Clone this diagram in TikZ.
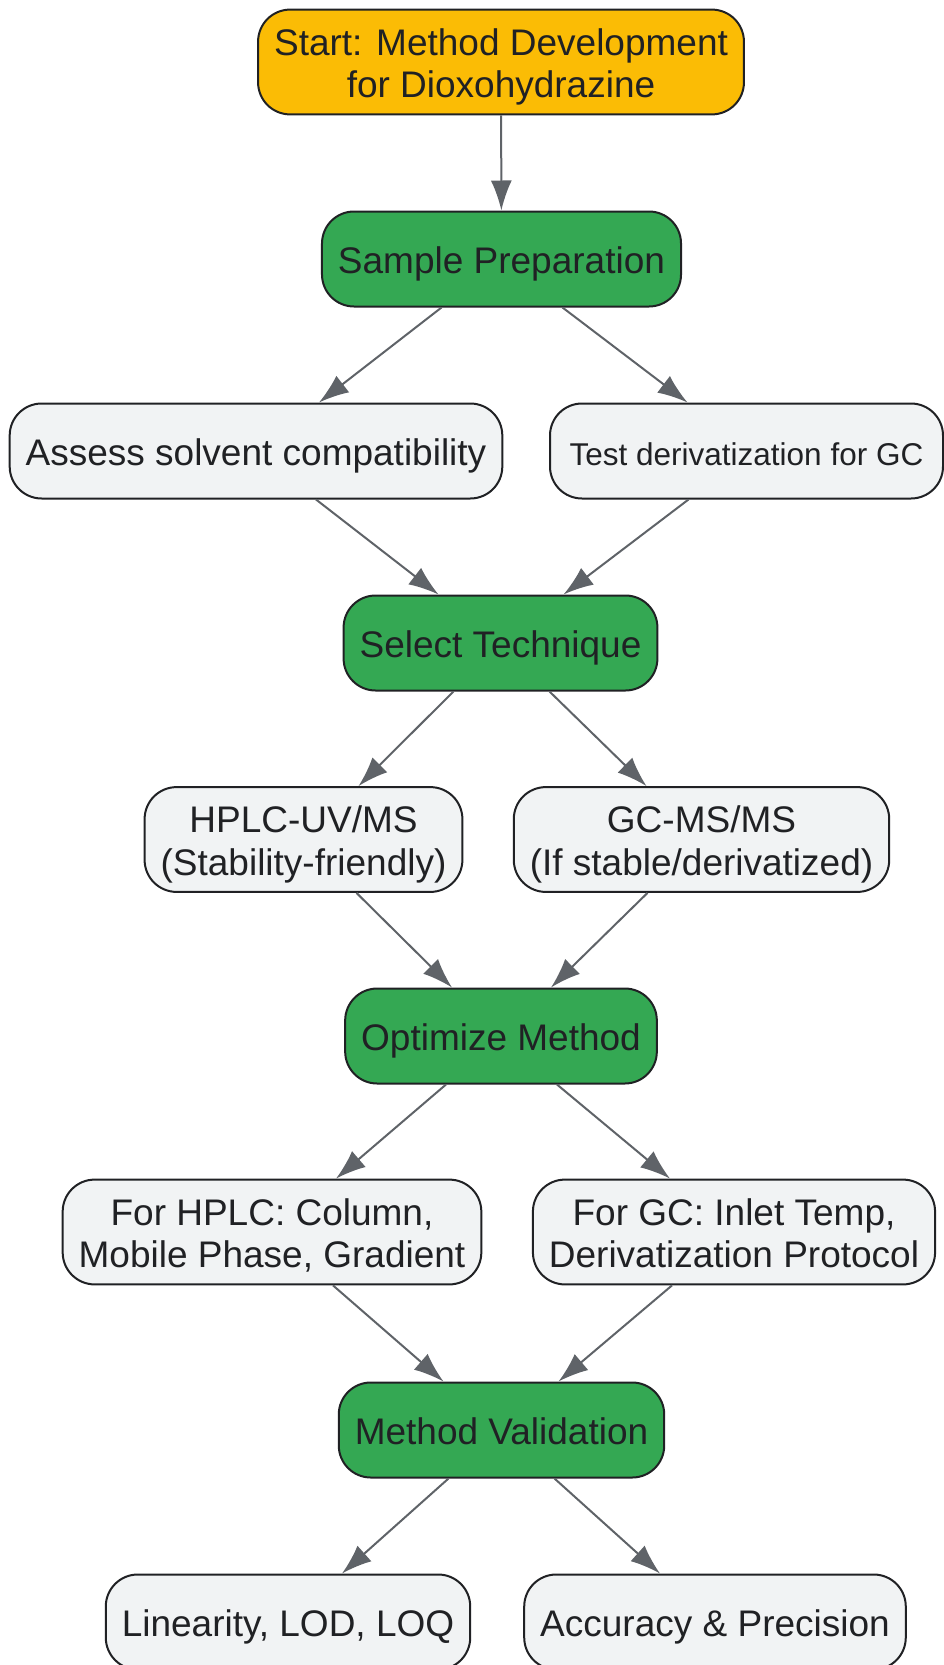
\documentclass[tikz,border=0pt]{standalone}
\usepackage{fontspec}
\setmainfont{Liberation Sans}
\usepackage{tikz}
\usetikzlibrary{arrows.meta}
\definecolor{startfill}{HTML}{FBBC05}
\definecolor{stepfill}{HTML}{34A853}
\definecolor{subfill}{HTML}{F1F3F4}
\definecolor{edgegray}{HTML}{5F6368}
\definecolor{inkdark}{HTML}{202124}
\newcommand{\linestrut}{\rule[-7.8pt]{0pt}{45.3pt}}
\newcommand{\pairstrut}{\rule[-6.3pt]{0pt}{85.3pt}}
\tikzstyle{base}=[rectangle, draw=inkdark, line width=2pt, rounded corners=32pt,
text=inkdark, align=center, inner xsep=16pt, inner ysep=10.5pt, minimum height=95pt,
font=\fontsize{37}{42.5}\selectfont,
execute at begin node=\linestrut, execute at end node=\linestrut]
\tikzstyle{twoline}=[inner ysep=9pt, execute at begin node=\pairstrut, execute at end node=\pairstrut]
\tikzstyle{start}=[base, fill=startfill]
\tikzstyle{phase}=[base, fill=stepfill]
\tikzstyle{option}=[base, fill=subfill]
\tikzstyle{link}=[draw=edgegray, line width=2pt, -{Latex[length=30pt,width=21pt]}]

\begin{document}
\begin{tikzpicture}[x=1pt,y=-1pt]
            \useasboundingbox (0,0) rectangle (943,1665);
            \node (start)[start, twoline] at (501,62) {Start: Method Development\\for Dioxohydrazine};
            \node (sp)[phase] at (501.5,259) {Sample Preparation};
            \node (assess)[option] at (256,451) {Assess solvent compatibility};
            \node (deriv)[option, font=\fontsize{31.5}{36}\selectfont, minimum width=393pt] at (746.5,451) {Test derivatization for GC};
            \node (select)[phase] at (500.5,643) {Select Technique};
            \node (hplc)[option, twoline] at (303.5,839.5) {HPLC-UV/MS\\(Stability-friendly)};
            \node (gcms)[option, twoline] at (701.5,839.5) {GC-MS/MS\\(If stable/derivatized)};
            \node (opt)[phase] at (501,1036) {Optimize Method};
            \node (ophplc)[option, twoline] at (272,1232) {For HPLC: Column,\\Mobile Phase, Gradient};
            \node (opgc)[option, twoline] at (734,1232) {For GC: Inlet Temp,\\Derivatization Protocol};
            \node (valid)[phase] at (501.5,1430) {Method Validation};
            \node (lin)[option] at (288,1622) {Linearity, LOD, LOQ};
            \node (acc)[option] at (715,1622) {Accuracy \& Precision};

            \draw[link] (start) -- (sp);
            \draw[link] ([xshift=-60pt]sp.south) -- ([xshift=63pt]assess.north);
            \draw[link] ([xshift=61pt]sp.south) -- ([xshift=-59pt]deriv.north);
            \draw[link] ([xshift=60pt]assess.south) -- ([xshift=-62pt]select.north);
            \draw[link] ([xshift=-58pt]deriv.south) -- ([xshift=63pt]select.north);
            \draw[link] ([xshift=-47pt]select.south) -- ([xshift=55pt]hplc.north);
            \draw[link] ([xshift=49pt]select.south) -- ([xshift=-55pt]gcms.north);
            \draw[link] ([xshift=53pt]hplc.south) -- ([xshift=-49pt]opt.north);
            \draw[link] ([xshift=-54pt]gcms.south) -- ([xshift=50pt]opt.north);
            \draw[link] ([xshift=-55pt]opt.south) -- ([xshift=64pt]ophplc.north);
            \draw[link] ([xshift=56pt]opt.south) -- ([xshift=-64pt]opgc.north);
            \draw[link] ([xshift=61pt]ophplc.south) -- ([xshift=-58pt]valid.north);
            \draw[link] ([xshift=-62pt]opgc.south) -- ([xshift=57pt]valid.north);
            \draw[link] ([xshift=-53pt]valid.south) -- ([xshift=54pt]lin.north);
            \draw[link] ([xshift=53pt]valid.south) -- ([xshift=-55pt]acc.north);
        \end{tikzpicture}
\end{document}
